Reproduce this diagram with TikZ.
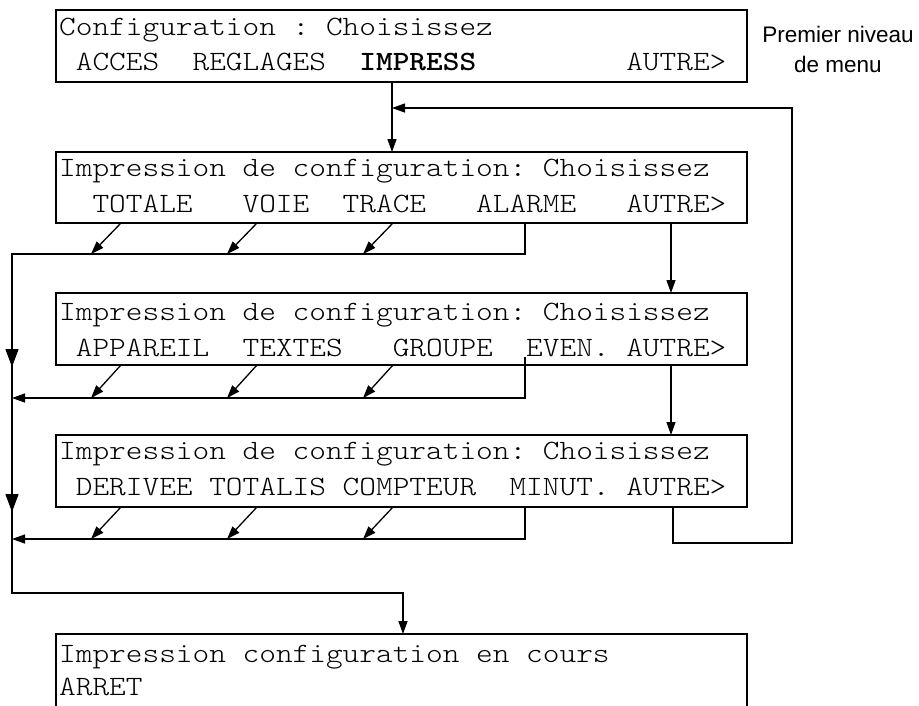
\documentclass[tikz,border=0pt]{standalone}
\usepackage{graphicx}
\usepackage{fontspec}
\setsansfont{Liberation Sans}
\newfontfamily\lcdfam{Latin Modern Mono Light}
\usetikzlibrary{arrows.meta}
\newcommand{\lcdfont}{\lcdfam\fontsize{31.77pt}{34pt}\selectfont}
\newcommand{\labfont}{\fontsize{22.5pt}{27pt}\selectfont\sffamily}
\newcommand{\sq}[1]{\scalebox{1}[0.88]{#1}}
\begin{document}
\begin{tikzpicture}[x=1pt,y=-1pt,
  box/.style={draw, line width=2.6pt, rectangle, inner sep=0pt, outer sep=0pt, minimum width=691pt},
  txt/.style={anchor=base west, inner sep=0pt, font=\lcdfont},
  lab/.style={anchor=base, inner sep=0pt, font=\labfont},
  conn/.style={line width=1.3pt},
  arr/.style={conn, -{Triangle[length=13pt,width=9pt]}},
  bigarr/.style={conn, -{Triangle[length=18pt,width=13pt]}}]
\useasboundingbox (0,0) rectangle (919,705);
\clip (0,0) rectangle (919,705);
% boxes
\node[box, minimum height=72pt] (b1) at (401.5,46) {};
\node[box, minimum height=71pt] (b2) at (401.5,187.5) {};
\node[box, minimum height=72pt] (b3) at (401.5,329) {};
\node[box, minimum height=72pt] (b4) at (401.5,471) {};
\node[box, minimum height=96pt] (b5) at (401.5,682) {};
% texts
\node[txt] (t1a) at (59,35) {\sq{Configuration~:~Choisissez}};
\node[txt] (t1b) at (59,70) {\sq{~ACCES~~REGLAGES~~\textbf{IMPRESS}~~~~~~~~~AUTRE>}};
\node[txt] (t2a) at (59,176) {\sq{Impression~de~configuration:~Choisissez}};
\node[txt] (t2b) at (59,212) {\sq{~~TOTALE~~~VOIE~~TRACE~~~ALARME~~~AUTRE>}};
\node[txt] (t3a) at (59,320) {\sq{Impression~de~configuration:~Choisissez}};
\node[txt] (t3b) at (59,356) {\sq{~APPAREIL~~TEXTES~~~GROUPE~~EVEN.~AUTRE>}};
\node[txt] (t4a) at (59,459) {\sq{Impression~de~configuration:~Choisissez}};
\node[txt] (t4b) at (59,495) {\sq{~DERIVEE~TOTALIS~COMPTEUR~~MINUT.~AUTRE>}};
\node[txt] (t5a) at (59,662) {\sq{Impression~configuration~en~cours}};
\node[txt] (t5b) at (59,695) {\sq{ARRET}};
\node[lab] (l1) at (838,42) {Premier niveau};
\node[lab] (l2) at (838,72) {de menu};
% reference coordinates
\coordinate (xL) at (12,0);
\coordinate (xD1) at (121,0);
\coordinate (xD2) at (257,0);
\coordinate (xD3) at (393,0);
\coordinate (xT1) at (91,0);
\coordinate (xT2) at (227,0);
\coordinate (xT3) at (363,0);
\coordinate (xA) at (525,0);
\coordinate (xM) at (392,0);
\coordinate (xN) at (671,0);
\coordinate (xR2) at (673,0);
\coordinate (xR) at (792,0);
\coordinate (xE) at (403,0);
\coordinate (y1) at (0,254);
\coordinate (y2) at (0,398);
\coordinate (y3) at (0,539);
\coordinate (y4) at (0,593);
\coordinate (y5) at (0,543);
\coordinate (yR) at (0,108);
\coordinate (yA1) at (0,367);
\coordinate (yA2) at (0,512);
\coordinate (yEv) at (0,357);
% main flow
\draw[arr] (b1.south -| xM) -- (b2.north -| xM);
\draw[arr] (b2.south -| xN) -- (b3.north -| xN);
\draw[arr] (b3.south -| xN) -- (b4.north -| xN);
\draw[arr] (b4.south -| xR2) |- (xR |- y5) |- (xM |- yR);
% diagonal choices
\foreach \b/\y in {b2/y1, b3/y2, b4/y3} {
  \draw[arr] (\b.south -| xD1) -- (xT1 |- \y);
  \draw[arr] (\b.south -| xD2) -- (xT2 |- \y);
  \draw[arr] (\b.south -| xD3) -- (xT3 |- \y);
}
% collecting bus
\draw[arr] (b2.south -| xA) |- (xL |- y1) -- (xL |- y4) -| (b5.north -| xE);
\draw[arr] (xA |- yEv) |- (xL |- y2);
\draw[arr] (b4.south -| xA) |- (xL |- y3);
\draw[bigarr] (xL |- y1) -- (xL |- yA1);
\draw[bigarr] (xL |- y2) -- (xL |- yA2);
\end{tikzpicture}
\end{document}
